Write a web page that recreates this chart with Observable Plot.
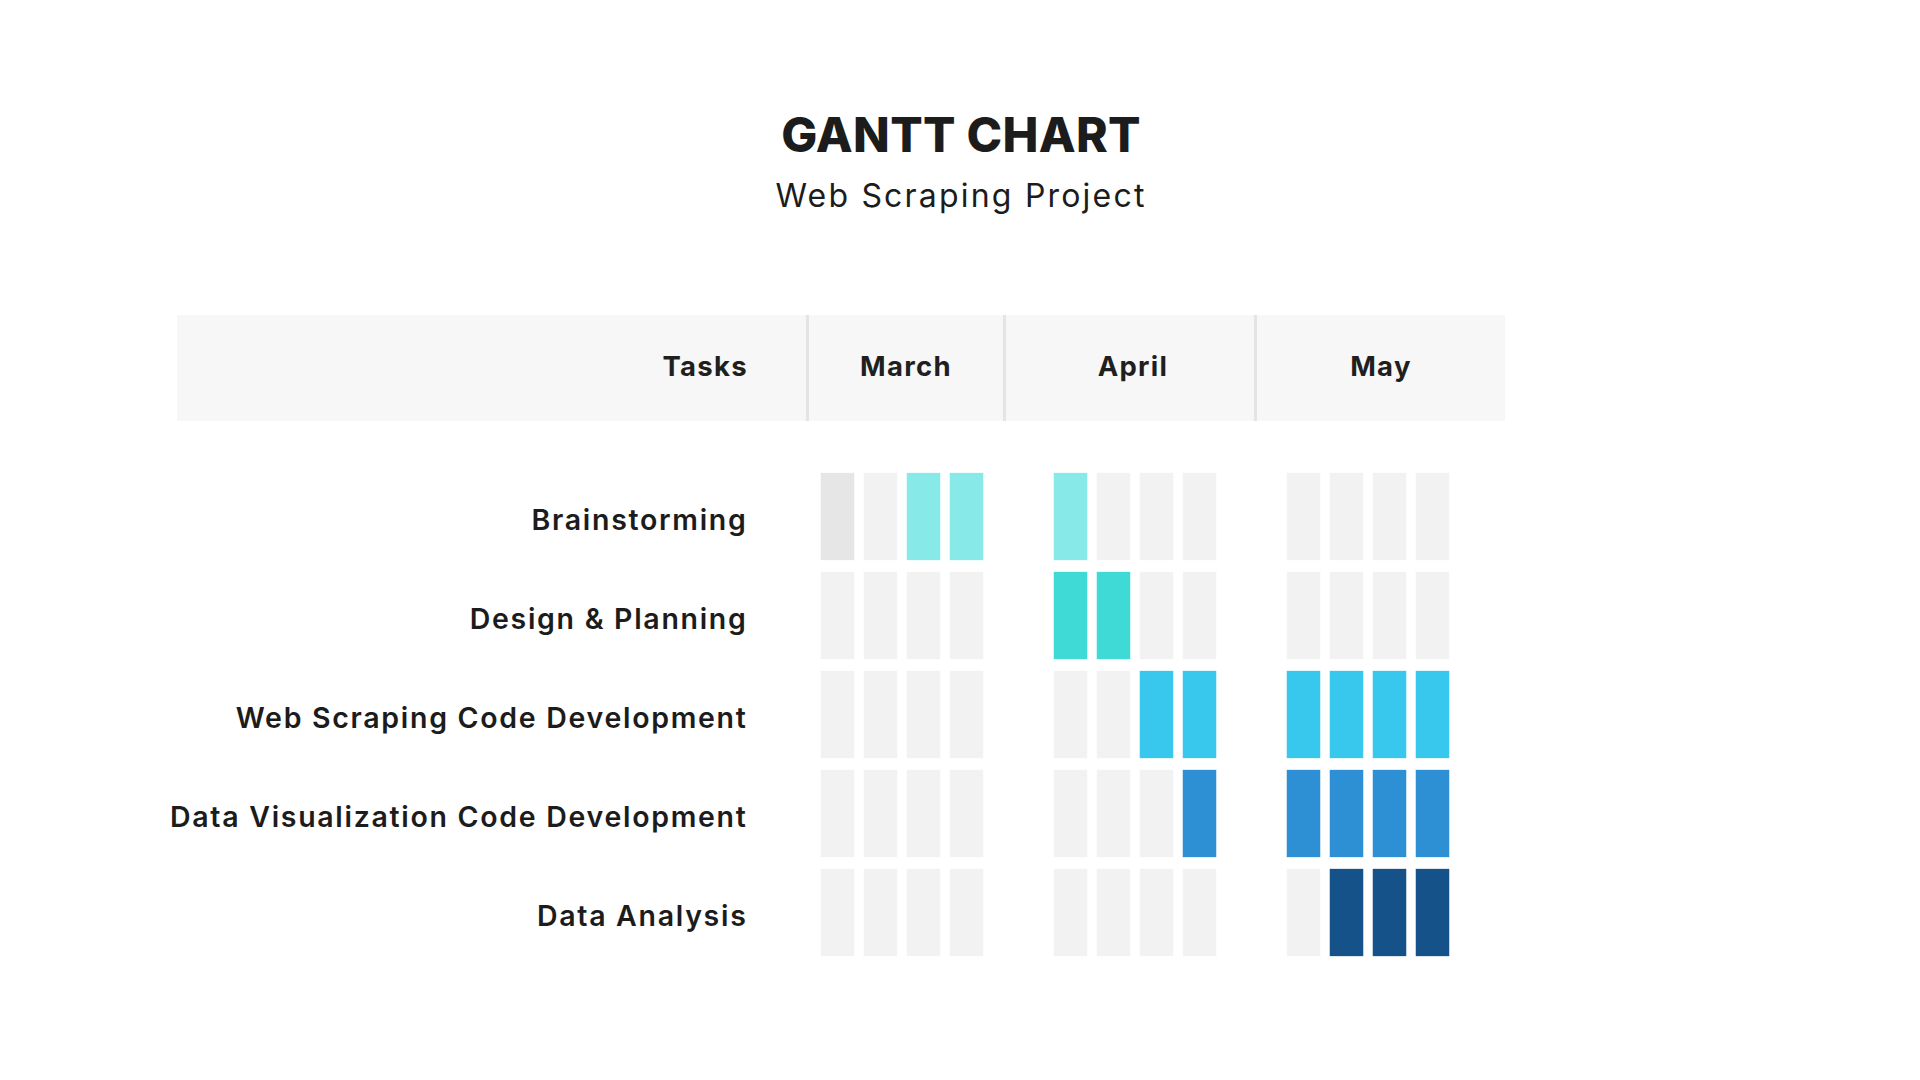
<!DOCTYPE html>
<html>
<head>
<meta charset="utf-8">
<script src="https://cdn.jsdelivr.net/npm/d3@7"></script>
<script src="https://cdn.jsdelivr.net/npm/@observablehq/plot@0.6"></script>
<style>
  html, body { margin: 0; padding: 0; background: #ffffff; }
  body { width: 1920px; height: 1080px; overflow: hidden; font-family: Inter, "Noto Sans", sans-serif; color: #1c1c1c; }
  #top { position: relative; width: 1920px; height: 430px; }
  #title { position: absolute; left: 0; width: 1922px; top: 105px; height: 60px; line-height: 60px; text-align: center; font-size: 48px; font-weight: 800; letter-spacing: 0.3px; }
  #subtitle { position: absolute; left: 0; width: 1922px; top: 176px; height: 40px; line-height: 40px; text-align: center; font-size: 32px; font-weight: 400; letter-spacing: 2.2px; }
  #header { position: absolute; left: 177px; top: 315px; width: 1328px; height: 106px; background: #f7f7f7; display: flex; }
  #header div { height: 106px; line-height: 102px; font-size: 27.5px; font-weight: 700; letter-spacing: 1.3px; color: #1f1f1f; box-sizing: border-box; }
  #header .tasks { width: 629px; text-align: right; padding-right: 58px; }
  #header .month { text-align: center; border-left: 3px solid #e4e4e4; }
  #chart svg { display: block; }
</style>
</head>
<body>
<div id="top">
  <div id="title">GANTT CHART</div>
  <div id="subtitle">Web Scraping Project</div>
  <div id="header"></div>
</div>
<div id="chart"></div>
<script>
// ---- data ----
const tasks = [
  "Brainstorming",
  "Design & Planning",
  "Web Scraping Code Development",
  "Data Visualization Code Development",
  "Data Analysis"
];
const months = ["March", "April", "May"];
const weeks = ["W1", "W2", "W3", "W4"];
const headerTasks = "Tasks";
// 1 = scheduled, 0 = idle, 2 = marked (current) week; 12 weeks: March W1..W4, April W1..W4, May W1..W4
const brainstorming  = [2,0,1,1, 1,0,0,0, 0,0,0,0];
const designPlanning = [0,0,0,0, 1,1,0,0, 0,0,0,0];
const webScraping    = [0,0,0,0, 0,0,1,1, 1,1,1,1];
const dataVizCode    = [0,0,0,0, 0,0,0,1, 1,1,1,1];
const dataAnalysis   = [0,0,0,0, 0,0,0,0, 0,1,1,1];
const taskColors = ["#88eae8", "#3fd9d6", "#38c8ee", "#2e90d4", "#145289"];
const idleColor = "#f2f2f2";
const markedColor = "#e6e6e6";

// ---- header ----
const header = document.getElementById("header");
const headerWidths = [197, 251, 251];
{
  const t = document.createElement("div");
  t.className = "tasks";
  t.textContent = headerTasks;
  header.appendChild(t);
  months.forEach((m, i) => {
    const d = document.createElement("div");
    d.className = "month";
    d.style.width = headerWidths[i] + "px";
    if (i === 1) d.style.paddingLeft = "6px";
    d.textContent = m;
    header.appendChild(d);
  });
}

// ---- build table ----
const schedules = [brainstorming, designPlanning, webScraping, dataVizCode, dataAnalysis];
const cells = [];
tasks.forEach((task, ti) => {
  schedules[ti].forEach((v, wi) => {
    cells.push({
      task,
      month: months[Math.floor(wi / 4)],
      week: weeks[wi % 4],
      fill: v === 1 ? taskColors[ti] : v === 2 ? markedColor : idleColor
    });
  });
});

const chart = Plot.plot({
  width: 1920,
  height: 600,
  marginLeft: 816,
  marginRight: 465,
  marginTop: 35,
  marginBottom: 67,
  style: { fontFamily: "Inter, 'Noto Sans', sans-serif", background: "transparent" },
  fx: { domain: months, paddingInner: 0.26, paddingOuter: 0, axis: null },
  x: { domain: weeks, padding: 0, axis: null },
  y: { domain: tasks, padding: 0, axis: null },
  marks: [
    Plot.cell(cells, {
      fx: "month",
      x: "week",
      y: "task",
      fill: "fill",
      insetLeft: 4.75,
      insetRight: 4.75,
      insetTop: 5.85,
      insetBottom: 5.85
    }),
    Plot.axisY({
      tickSize: 0,
      tickPadding: 69,
      fontSize: 28.5,
      fontWeight: 600,
      fill: "#1c1c1c",
      dy: 4,
      label: null
    })
  ]
});
chart.style.letterSpacing = "1.7px";
document.getElementById("chart").appendChild(chart);
</script>
</body>
</html>
